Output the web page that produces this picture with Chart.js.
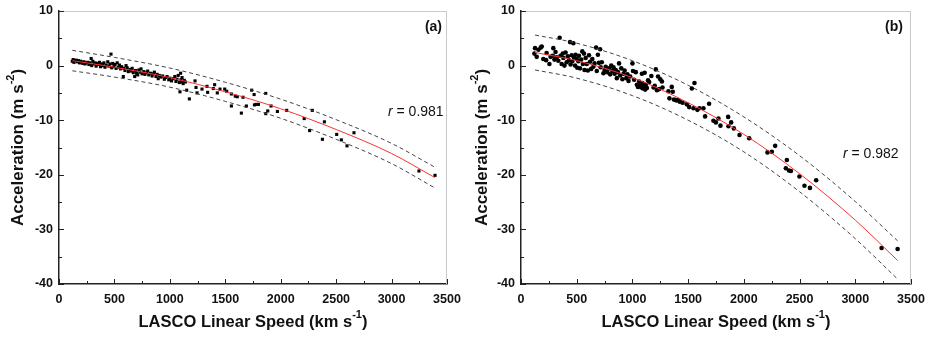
<!DOCTYPE html>
<html>
<head>
<meta charset="utf-8">
<script src="https://cdn.jsdelivr.net/npm/chart.js@4/dist/chart.umd.min.js"></script>
<style>
  html, body { margin: 0; padding: 0; background: #fff; }
  #wrap { position: relative; width: 930px; height: 338px; }
  .panel { position: absolute; top: 0; width: 465px; height: 338px; }
  #pa { left: 0; }
  #pb { left: 465px; }
</style>
</head>
<body>
<div id="wrap">
  <div class="panel" id="pa"><canvas id="chartA" width="465" height="338"></canvas></div>
  <div class="panel" id="pb"><canvas id="chartB" width="465" height="338"></canvas></div>
</div>
<script>
// axis ranges / ticks
const xMin = 0, xMax = 3500, xStep = 500, xMinor = 250;
const yMin = -40, yMax = 10, yStep = 10, yMinor = 5;

// panel (a): speed vs acceleration, squares
const speedA = [120,128,135,145,155,165,175,185,195,205,215,225,235,245,260,270,280,290,295,305,315,325,335,345,355,365,375,385,395,405,415,425,440,450,460,469,475,485,495,505,515,525,535,545,555,565,580,585,595,605,615,625,640,650,660,670,683,690,700,710,720,730,740,750,765,775,790,800,810,825,840,850,860,875,885,895,905,920,935,950,960,975,990,1000,1015,1030,1045,1055,1065,1075,1085,1091,1097,1100,1105,1110,1120,1130,1140,
  1152,1176,1227,1236,1245,1290,1335,1341,1392,1404,1428,1452,1495,1513,1555,1555,1590,1608,1645,1660,1690,1738,1760,1763,1778,1799,1865,1865,1883,1913,1970,2054,2212,2261,2285,2376,2394,2505,2547,2598,2661,3247,3392];
const accelA = [0.8,1.1,0.6,0.9,1.0,0.7,0.9,0.5,0.8,0.6,0.4,0.7,0.3,0.5,0.6,0.2,0.5,1.3,0.0,0.8,0.3,0.5,-0.1,0.4,0.2,0.6,-0.2,0.3,0.0,0.5,-0.3,0.1,0.7,-0.1,0.3,2.1,-0.4,0.4,-0.2,0.2,-0.5,0.5,-0.3,0.1,-0.6,-0.2,-2.0,-0.5,-0.9,0.0,-0.4,-1.1,-0.7,-1.0,-0.5,-1.3,-2.0,-0.9,-1.4,-1.7,-0.8,-1.2,-0.6,-1.5,-1.1,-1.6,-1.3,-1.0,-1.7,-1.4,-1.9,-1.5,-1.2,-2.0,-1.6,-2.4,-1.8,-2.1,-1.9,-2.5,-2.2,-2.0,-2.6,-2.3,-2.8,-2.4,-2.0,-2.9,-2.5,-1.8,-3.1,-4.8,-1.4,-2.6,-3.0,-2.2,-3.3,-2.7,-3.0,
  -4.5,-6.1,-2.8,-4.0,-5.0,-4.3,-3.8,-4.9,-4.2,-3.5,-5.0,-4.3,-4.3,-4.7,-5.2,-7.4,-5.6,-5.7,-8.7,-5.8,-7.4,-4.5,-5.3,-7.2,-7.1,-7.1,-5.1,-8.8,-8.3,-7.4,-8.4,-8.2,-9.7,-11.9,-8.2,-13.5,-10.3,-12.6,-13.6,-14.7,-12.3,-19.3,-20.1];

// panel (b): speed vs acceleration, circles
const speedB = [120,126,141,156,177,186,200,225,230,255,265,285,290,300,310,320,335,347,355,365,375,380,390,400,410,420,430,440,445,455,460,470,475,485,490,500,505,515,520,530,540,550,555,565,570,580,590,600,610,620,630,640,650,660,674,680,690,700,710,715,725,740,750,760,775,790,800,810,820,830,840,850,860,870,880,890,900,910,920,930,945,955,965,980,1000,1005,1015,1030,1040,1050,1060,1070,1080,1085,1090,1095,1100,1110,1115,1120,1130,1140,1150,1170,1190,1200,1210,1220,1230,1240,1250,1265,1270,
  1323,1332,1353,1362,1372,1385,1398,1410,1425,1450,1488,1509,1533,1548,1557,1583,1601,1637,1652,1688,1727,1749,1772,1790,1859,1862,1886,1910,1961,2048,2212,2251,2281,2377,2386,2405,2422,2499,2544,2593,2649,3236,3380];
const accelB = [2.2,3.2,1.6,2.9,3.3,3.5,1.2,1.0,2.3,0.3,1.6,1.8,3.2,1.1,2.5,1.5,0.9,5.1,1.8,0.3,2.2,1.4,0.0,2.4,0.6,1.7,1.0,4.3,0.2,1.9,0.8,4.1,1.5,0.0,2.0,1.2,-0.4,0.8,1.8,-0.5,1.1,2.6,0.3,2.2,-0.8,1.4,0.3,-0.9,1.9,0.7,-0.6,1.2,-0.2,0.4,3.3,-1.0,2.0,0.5,3.0,-0.3,0.6,-1.4,-0.8,-0.2,-1.2,-0.5,-1.6,0.0,-1.0,-0.3,-1.5,-0.8,-2.3,-1.2,0.4,-1.8,-0.5,-2.5,-1.5,-0.9,-2.3,-1.6,-2.8,-2.0,0.4,-1.0,-2.6,-1.2,-3.5,-3.9,-2.9,-3.6,-4.0,-1.5,-3.2,-4.2,-3.8,-1.3,-4.4,-3.5,-4.1,-2.7,-3.0,-1.9,-4.0,-3.7,-0.7,-4.5,-2.0,-4.3,-2.5,-2.9,-4.0,
  -4.7,-6.0,-3.9,-4.8,-6.2,-6.3,-6.4,-6.3,-6.6,-6.8,-7.1,-7.6,-4.2,-7.8,-3.2,-8.1,-7.8,-7.8,-9.3,-7.0,-10.1,-10.4,-9.7,-11.0,-9.4,-11.1,-10.4,-11.5,-12.7,-13.3,-15.9,-15.8,-14.7,-18.8,-17.3,-19.2,-19.3,-20.3,-22.0,-22.4,-21.0,-33.4,-33.6];

// fitted curves and prediction bands
const curveXA = [120,500,1000,1500,2000,2500,3000,3390];
const fitA    = [0.9,-0.3,-2.2,-4.8,-7.9,-11.7,-16.1,-20.5];
const upperA  = [2.8,1.5,-0.45,-3.05,-6.15,-9.9,-14.25,-18.6];
const lowerA  = [-0.95,-2.1,-3.95,-6.55,-9.65,-13.5,-17.95,-22.4];

const curveXB = [126,500,1000,1500,2000,2500,3000,3380];
const fitB    = [2.4,0.9,-2.2,-6.8,-12.6,-19.8,-28.3,-35.7];
const upperB  = [5.6,4.1,0.9,-3.6,-9.4,-16.5,-24.9,-32.1];
const lowerB  = [-0.8,-2.3,-5.5,-10.0,-15.8,-23.1,-31.7,-39.1];

Chart.defaults.font.family = '"Liberation Sans", Arial, sans-serif';
Chart.defaults.color = '#111';

const pts = (xs, ys) => xs.map((x, i) => ({ x, y: ys[i] }));

function drawRich(ctx, parts, size, supSize) {
  let w = 0;
  parts.forEach(p => {
    ctx.font = 'bold ' + (p.sup ? supSize : size) + 'px "Liberation Sans", Arial, sans-serif';
    w += ctx.measureText(p.t).width;
  });
  let cx = -w / 2;
  parts.forEach(p => {
    ctx.font = 'bold ' + (p.sup ? supSize : size) + 'px "Liberation Sans", Arial, sans-serif';
    ctx.fillText(p.t, cx, p.sup ? -size * 0.42 : 0);
    cx += ctx.measureText(p.t).width;
  });
}

const decor = {
  id: 'decor',
  afterDraw(chart) {
    const o = chart.options.plugins.decor;
    const { ctx, chartArea: a, scales: { x, y } } = chart;
    ctx.save();
    // light top/right frame
    ctx.strokeStyle = '#c9c9c9';
    ctx.lineWidth = 1;
    ctx.beginPath();
    ctx.moveTo(a.left, a.top + 0.5);
    ctx.lineTo(a.right - 0.5, a.top + 0.5);
    ctx.lineTo(a.right - 0.5, a.bottom);
    ctx.stroke();

    // inward ticks
    ctx.strokeStyle = '#222';
    ctx.beginPath();
    for (let v = xMin; v <= xMax; v += xMinor) {
      const px = Math.round(x.getPixelForValue(v)) + 0.5;
      const len = v % xStep === 0 ? 5 : 3;
      ctx.moveTo(px, a.bottom);
      ctx.lineTo(px, a.bottom - len);
    }
    for (let v = yMin; v <= yMax; v += yMinor) {
      const py = Math.round(y.getPixelForValue(v)) + 0.5;
      const len = v % yStep === 0 ? 5 : 3;
      ctx.moveTo(a.left, py);
      ctx.lineTo(a.left + len, py);
    }
    ctx.stroke();

    // panel label and r value
    ctx.fillStyle = '#111';
    ctx.textBaseline = 'middle';
    ctx.textAlign = 'right';
    ctx.font = 'bold 14px "Liberation Sans", Arial, sans-serif';
    ctx.fillText(o.tag, o.tagX, 27);

    ctx.textAlign = 'left';
    ctx.font = 'italic 14px "Liberation Sans", Arial, sans-serif';
    const rw = ctx.measureText('r').width;
    ctx.fillText('r', o.rX, o.rY);
    ctx.font = '14px "Liberation Sans", Arial, sans-serif';
    ctx.fillText(' = ' + o.r, o.rX + rw, o.rY);

    // axis titles with superscripts
    ctx.save();
    ctx.translate(o.yTitleX, (a.top + a.bottom) / 2);
    ctx.rotate(-Math.PI / 2);
    drawRich(ctx, [{ t: 'Acceleration (m s' }, { t: '-2', sup: true }, { t: ')' }], 17, 11);
    ctx.restore();
    ctx.save();
    ctx.translate((a.left + a.right) / 2, 322);
    drawRich(ctx, [{ t: 'LASCO Linear Speed (km s' }, { t: '-1', sup: true }, { t: ')' }], 16.5, 11);
    ctx.restore();

    ctx.restore();
  }
};

function noPad(s) {
  s.paddingLeft = 0; s.paddingRight = 0; s.paddingTop = 0; s.paddingBottom = 0;
}

function makePanel(id, opt) {
  const tickFont = { size: 12.5, weight: 'bold' };
  new Chart(document.getElementById(id), {
    type: 'scatter',
    data: {
      datasets: [
        {
          data: pts(opt.curveX, opt.fit), showLine: true, borderColor: '#ff3030', borderWidth: 1,
          pointRadius: 0, cubicInterpolationMode: 'monotone', order: 0
        },
        {
          data: pts(opt.curveX, opt.upper), showLine: true, borderColor: '#444', borderWidth: 1,
          borderDash: [4, 3], pointRadius: 0, cubicInterpolationMode: 'monotone', order: 1
        },
        {
          data: pts(opt.curveX, opt.lower), showLine: true, borderColor: '#444', borderWidth: 1,
          borderDash: [4, 3], pointRadius: 0, cubicInterpolationMode: 'monotone', order: 1
        },
        {
          data: pts(opt.speed, opt.accel), pointStyle: opt.pointStyle, pointRadius: opt.pointRadius,
          backgroundColor: '#000', borderColor: '#000', borderWidth: 0, order: 2
        }
      ]
    },
    options: {
      responsive: false,
      animation: false,
      layout: { padding: { top: 11, right: opt.padRight, left: 0, bottom: 0 } },
      plugins: {
        legend: { display: false },
        tooltip: { enabled: false },
        decor: opt.decor
      },
      scales: {
        x: {
          type: 'linear', min: xMin, max: xMax,
          grid: { display: false, drawTicks: false },
          border: { display: true, color: '#222', width: 1.5 },
          ticks: { stepSize: xStep, font: tickFont, color: '#111', padding: 8, maxRotation: 0,
                   callback: v => String(v) },
          afterFit: s => { s.height = 338 - 284; noPad(s); }
        },
        y: {
          type: 'linear', min: yMin, max: yMax,
          grid: { display: false, drawTicks: false },
          border: { display: true, color: '#222', width: 1.5 },
          ticks: { stepSize: yStep, font: tickFont, color: '#111', padding: 6,
                   callback: v => String(v) },
          afterFit: s => { s.width = opt.left; noPad(s); }
        }
      }
    },
    plugins: [decor]
  });
}

makePanel('chartA', {
  speed: speedA, accel: accelA, curveX: curveXA, fit: fitA, upper: upperA, lower: lowerA,
  pointStyle: 'rect', pointRadius: 2.2, left: 59, padRight: 18,
  decor: { tag: '(a)', tagX: 442, r: '0.981', rX: 388, rY: 112, yTitleX: 18 }
});
makePanel('chartB', {
  speed: speedB, accel: accelB, curveX: curveXB, fit: fitB, upper: upperB, lower: lowerB,
  pointStyle: 'circle', pointRadius: 2.3, left: 56, padRight: 19,
  decor: { tag: '(b)', tagX: 438, r: '0.982', rX: 378, rY: 154, yTitleX: 17 }
});
</script>
</body>
</html>
